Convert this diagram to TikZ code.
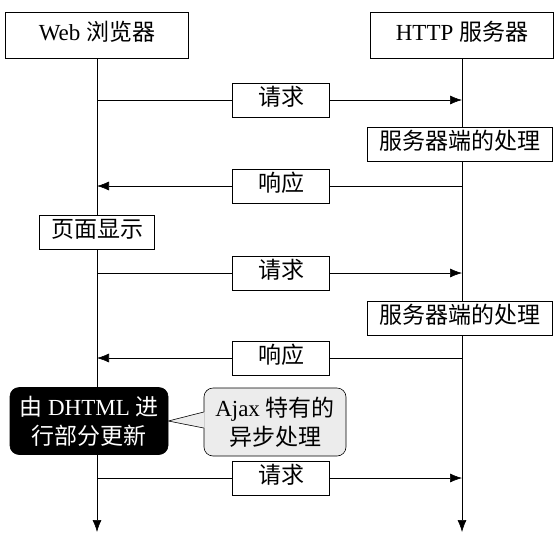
\documentclass[tikz,border=0pt]{standalone}
\usepackage{fontspec}
\setmainfont{Liberation Serif}
\newfontfamily\cjk{Noto Sans CJK SC}
\usetikzlibrary{arrows.meta}
\begin{document}
\begin{tikzpicture}[x=1pt,y=-1pt,
  font=\fontsize{23}{29}\selectfont,
  box/.style={draw,fill=white,inner xsep=8pt,inner ysep=0pt,text height=17pt,text depth=6pt,minimum height=34pt},
  msgbox/.style={box,minimum width=97pt},
  headbox/.style={box,minimum width=183pt,minimum height=46pt},
  flow/.style={-{Latex[length=12pt,width=9pt]}},
  every path/.style={line width=0.6pt}]
\useasboundingbox[fill=white] (0,0) rectangle (556,538);
% lifelines
\node[headbox] (web) at (97,35) {Web {\cjk 浏览器}};
\node[headbox] (http) at (462,35) {HTTP {\cjk 服务器}};
\coordinate (webend) at (97,532);
\coordinate (httpend) at (462,532);
\draw[flow] (web.south) -- (webend);
\draw[flow] (http.south) -- (httpend);
% first round trip
\node[msgbox] (req1) at (281,100) {\cjk 请求};
\draw (web |- req1) -- (req1.west);
\draw[flow] (req1.east) -- (http |- req1);
\node[box,minimum width=185pt] (srv1) at (460,144) {\cjk 服务器端的处理};
\node[msgbox] (resp1) at (281,186) {\cjk 响应};
\draw (http |- resp1) -- (resp1.east);
\draw[flow] (resp1.west) -- (web |- resp1);
\node[box,minimum width=115pt] (show) at (97,232) {\cjk 页面显示};
% second round trip
\node[msgbox] (req2) at (281,273) {\cjk 请求};
\draw (web |- req2) -- (req2.west);
\draw[flow] (req2.east) -- (http |- req2);
\node[box,minimum width=185pt] (srv2) at (460,318) {\cjk 服务器端的处理};
\node[msgbox] (resp2) at (281,358) {\cjk 响应};
\draw (http |- resp2) -- (resp2.east);
\draw[flow] (resp2.west) -- (web |- resp2);
% partial update and the note
\node[draw,fill=black,text=white,rounded corners=9pt,align=center,inner xsep=5pt,minimum width=158pt,minimum height=67pt] (dhtml) at (89,421) {{\cjk 由} DHTML {\cjk 进}\\{\cjk 行部分更新}};
\node[draw,fill=gray!15,rounded corners=9pt,align=center,inner xsep=5pt,minimum width=142pt,minimum height=68pt] (ajax) at (275,422) {Ajax {\cjk 特有的}\\{\cjk 异步处理}};
\fill[gray!15] ([xshift=1pt,yshift=-6pt]ajax.west) -- (dhtml.east) -- ([xshift=1pt,yshift=10pt]ajax.west) -- cycle;
\draw ([yshift=-6pt]ajax.west) -- (dhtml.east) -- ([yshift=10pt]ajax.west);
% third request
\node[msgbox] (req3) at (281,478) {\cjk 请求};
\draw (web |- req3) -- (req3.west);
\draw[flow] (req3.east) -- (http |- req3);
\end{tikzpicture}
\end{document}
